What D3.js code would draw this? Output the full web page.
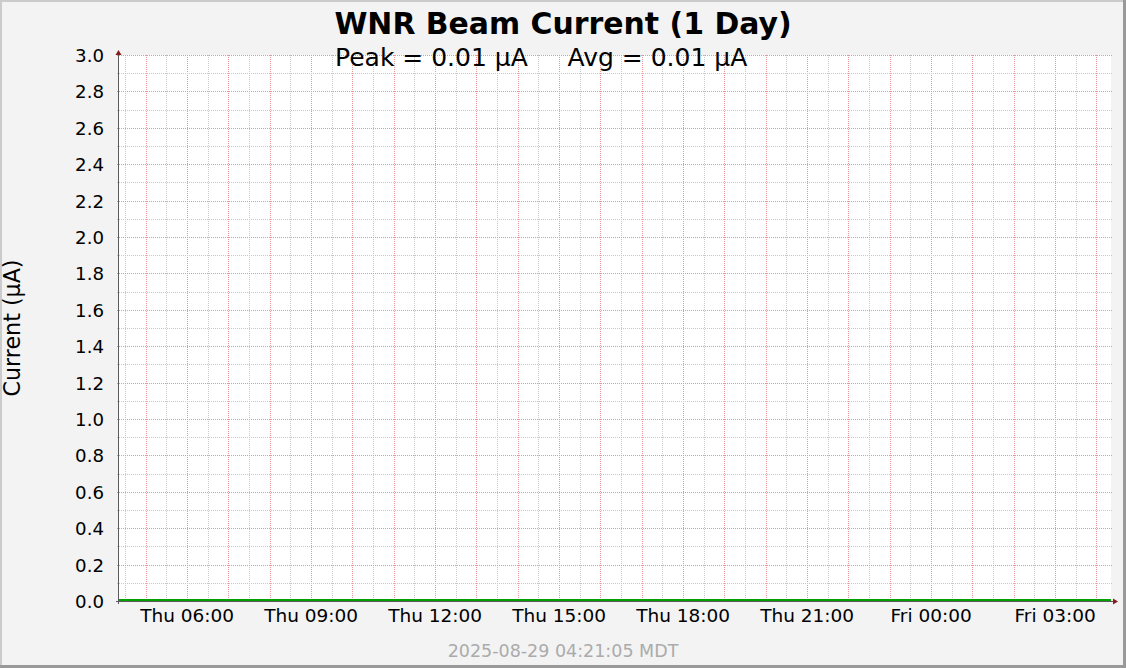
<!DOCTYPE html>
<html>
<head>
<meta charset="utf-8">
<script src="https://cdn.jsdelivr.net/npm/d3@7/dist/d3.min.js"></script>
<style>
  html, body { margin: 0; padding: 0; background: #f3f3f3; }
  svg { display: block; }
  text { font-family: "DejaVu Sans", sans-serif; }
</style>
</head>
<body>
<svg id="chart" width="1126" height="668"></svg>
<script>
// ---- data ----
const chartTitle = "WNR Beam Current (1 Day)";
const subTitle = "Peak = 0.01 \u00b5A     Avg = 0.01 \u00b5A";
const yAxisTitle = "Current (\u00b5A)";
const stampText = "2025-08-29 04:21:05 MDT";
const rangeStart = "2025-08-28T04:21:05Z"; // MDT clock time, treated as naive
const rangeEnd   = "2025-08-29T04:21:05Z";
const sampleTimes = ["2025-08-28T04:21:05Z","2025-08-28T06:00:00Z","2025-08-28T08:00:00Z","2025-08-28T10:00:00Z",
  "2025-08-28T12:00:00Z","2025-08-28T14:00:00Z","2025-08-28T16:00:00Z","2025-08-28T18:00:00Z",
  "2025-08-28T20:00:00Z","2025-08-28T22:00:00Z","2025-08-29T00:00:00Z","2025-08-29T02:00:00Z",
  "2025-08-29T04:00:00Z","2025-08-29T04:21:05Z"];
const currentValues = [0.005,0.005,0.006,0.005,0.005,0.006,0.005,0.005,0.006,0.005,0.005,0.006,0.005,0.005];
const yTicks = [0.0,0.2,0.4,0.6,0.8,1.0,1.2,1.4,1.6,1.8,2.0,2.2,2.4,2.6,2.8,3.0];
const yMinorTicks = [0.1,0.3,0.5,0.7,0.9,1.1,1.3,1.5,1.7,1.9,2.1,2.3,2.5,2.7,2.9];

// ---- layout ----
const W = 1126, H = 668;
const X0 = 119, X1 = 1111, Y0 = 601, Y1 = 55;
const svg = d3.select("#chart");

const x = d3.scaleUtc().domain([new Date(rangeStart), new Date(rangeEnd)]).range([X0, X1]);
const y = d3.scaleLinear().domain([0, 3]).range([Y0, Y1]);

// background & frame shading
svg.append("rect").attr("x",0).attr("y",0).attr("width",W).attr("height",H).attr("fill","#f3f3f3");
svg.append("rect").attr("x",0).attr("y",0).attr("width",W).attr("height",2).attr("fill","#cbcbcb");
svg.append("rect").attr("x",0).attr("y",0).attr("width",2).attr("height",H).attr("fill","#cbcbcb");
svg.append("rect").attr("x",0).attr("y",H-3).attr("width",W).attr("height",3).attr("fill","#999999");
svg.append("rect").attr("x",W-3).attr("y",0).attr("width",3).attr("height",H).attr("fill","#999999");

// canvas
svg.append("rect").attr("x",X0).attr("y",Y1).attr("width",X1-X0).attr("height",Y0-Y1).attr("fill","#ffffff");

const grid = svg.append("g");
const minorCol = "#c8c8c8", majorCol = "#e89696";

// vertical grid
const minorX = d3.utcMinute.every(30).range(x.domain()[0], x.domain()[1]).filter(d => d.getUTCMinutes() === 30);
const majorX = d3.utcHour.every(1).range(x.domain()[0], x.domain()[1]);
grid.selectAll(".vmin").data(minorX).join("line")
  .attr("x1", d => Math.round(x(d)) + 0.5).attr("x2", d => Math.round(x(d)) + 0.5)
  .attr("y1", Y1).attr("y2", Y0 + 2)
  .attr("stroke", minorCol).attr("stroke-width",1).attr("stroke-dasharray","1,1");
grid.selectAll(".vmaj").data(majorX).join("line")
  .attr("x1", d => Math.round(x(d)) + 0.5).attr("x2", d => Math.round(x(d)) + 0.5)
  .attr("y1", Y1).attr("y2", Y0 + 2)
  .attr("stroke", majorCol).attr("stroke-width",1).attr("stroke-dasharray","1,1");

// horizontal grid
grid.selectAll(".hmin").data(yMinorTicks).join("line")
  .attr("x1", X0 - 2).attr("x2", X1 + 2)
  .attr("y1", d => Math.round(y(d)) + 0.5).attr("y2", d => Math.round(y(d)) + 0.5)
  .attr("stroke", minorCol).attr("stroke-width",1).attr("stroke-dasharray","1,1");
grid.selectAll(".hmaj").data(yTicks.filter(v => v > 0)).join("line")
  .attr("x1", X0 - 2).attr("x2", X1 + 2)
  .attr("y1", d => Math.round(y(d)) + 0.5).attr("y2", d => Math.round(y(d)) + 0.5)
  .attr("stroke", majorCol).attr("stroke-width",1).attr("stroke-dasharray","1,1");

// data line
const pts = sampleTimes.map((t, i) => [new Date(t), currentValues[i]]);
svg.append("path").datum(pts)
  .attr("d", d3.line().x(d => x(d[0])).y(d => y(d[1])))
  .attr("fill","none").attr("stroke","#00a000").attr("stroke-width",2);

// axes
const axisCol = "#5a5a5a", arrowCol = "#8b1a1a";
svg.append("line").attr("x1", X0 - 0.5).attr("x2", X0 - 0.5).attr("y1", Y0 + 3).attr("y2", Y1 - 2)
  .attr("stroke", axisCol).attr("stroke-width",1);
svg.append("line").attr("x1", X0 - 3).attr("x2", X1 + 3).attr("y1", Y0 + 0.5).attr("y2", Y0 + 0.5)
  .attr("stroke", axisCol).attr("stroke-width",1);
svg.append("path").attr("d", `M${X0-3.5},${Y1} L${X0+2.5},${Y1} L${X0-0.5},${Y1-5} Z`).attr("fill", arrowCol);
svg.append("path").attr("d", `M${X1+2},${Y0-2.5} L${X1+2},${Y0+3.5} L${X1+7},${Y0+0.5} Z`).attr("fill", arrowCol);

// y tick labels
const fmtY = d3.format(".1f");
svg.selectAll(".ylab").data(yTicks).join("text")
  .attr("x", 104).attr("y", d => y(d) + 7)
  .attr("text-anchor","end").attr("font-size", 18.2).attr("fill","#000")
  .text(d => fmtY(d));

// x tick labels
const labelX = d3.utcHour.every(3).range(x.domain()[0], x.domain()[1]);
const fmtX = d3.utcFormat("%a %H:%M");
svg.selectAll(".xlab").data(labelX).join("text")
  .attr("x", d => x(d)).attr("y", 622)
  .attr("text-anchor","middle").attr("font-size", 18.5).attr("fill","#000")
  .text(d => fmtX(d));

// titles
svg.append("text").attr("x", 563).attr("y", 34).attr("text-anchor","middle")
  .attr("font-size", 29.9).attr("font-weight","bold").attr("fill","#000").text(chartTitle);
svg.append("text").attr("x", 335).attr("y", 66).attr("text-anchor","start")
  .attr("font-size", 25).attr("fill","#000").style("white-space","pre").text(subTitle);

// y axis title
svg.append("text").attr("transform","translate(20,328) rotate(-90)")
  .attr("text-anchor","middle").attr("font-size", 22.2).attr("fill","#000").text(yAxisTitle);

// timestamp
svg.append("text").attr("x", 563).attr("y", 657).attr("text-anchor","middle")
  .attr("font-family","'DejaVu Sans Mono', monospace").attr("font-size", 17.5).attr("fill","#ababab")
  .text(stampText);
</script>
</body>
</html>
